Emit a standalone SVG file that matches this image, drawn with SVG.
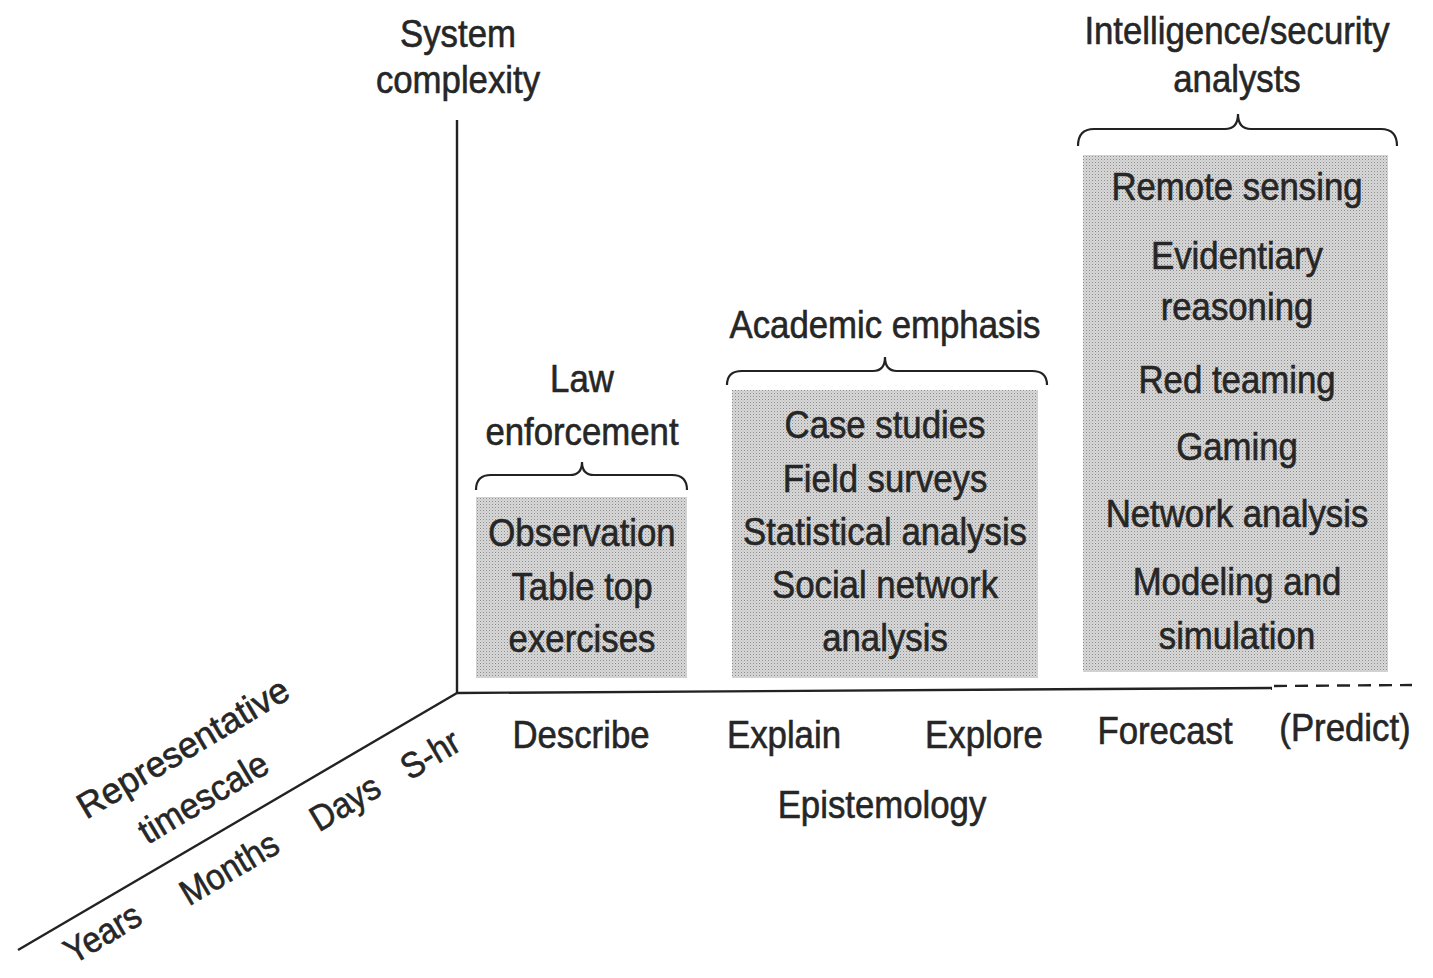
<svg xmlns="http://www.w3.org/2000/svg" width="1433" height="978" viewBox="0 0 1433 978">
  <defs>
    <pattern id="stipple" width="3" height="3" patternUnits="userSpaceOnUse">
      <rect width="3" height="3" fill="#d8d8d8"/>
      <rect width="1" height="1" fill="#8a8a8a"/>
      <rect x="1.5" y="1.5" width="1" height="1" fill="#b0b0b0"/>
    </pattern>
    <style>
      text { font-family: "Liberation Sans", Arial, sans-serif; font-size: 38px; fill: #262626; stroke: #262626; stroke-width: 0.6; text-anchor: middle; }
      .rot text { font-size: 36px; }
      .box { fill: url(#stipple); stroke: none; }
      .brace { fill: none; stroke: #222; stroke-width: 2.2; }
      .axis { fill: none; stroke: #222; stroke-width: 2.4; }
      .dash { fill: none; stroke: #222; stroke-width: 2.4; stroke-dasharray: 13 8; }
    </style>
  </defs>
  <rect width="1433" height="978" fill="#ffffff"/>

  <g id="connectors">
    <line class="axis" x1="457" y1="120" x2="457" y2="693"/>
    <line class="axis" x1="457" y1="693" x2="1272" y2="688"/>
    <line class="dash" x1="1274" y1="686" x2="1412" y2="685"/>
    <line class="axis" x1="18" y1="950" x2="457" y2="693"/>
  </g>

  <g id="axis-vertical-label">
    <text transform="translate(458,47) scale(0.915,1)">System</text>
    <text transform="translate(458,93) scale(0.915,1)">complexity</text>
  </g>

  <g id="law-enforcement">
    <text transform="translate(582,392) scale(0.915,1)">Law</text>
    <text transform="translate(582,445) scale(0.915,1)">enforcement</text>
    <path class="brace" d="M476,490 Q476,475 491,475 L570,475 Q582,475 582,462 Q582,475 594,475 L672,475 Q687,475 687,490"/>
    <rect class="box" x="476" y="497" width="211" height="181"/>
    <text transform="translate(582,546) scale(0.915,1)">Observation</text>
    <text transform="translate(582,600) scale(0.915,1)">Table top</text>
    <text transform="translate(582,652) scale(0.915,1)">exercises</text>
  </g>

  <g id="academic-emphasis">
    <text transform="translate(885,338) scale(0.915,1)">Academic emphasis</text>
    <path class="brace" d="M727,385 Q727,371 742,371 L873,371 Q885,371 885,357 Q885,371 897,371 L1032,371 Q1047,371 1047,385"/>
    <rect class="box" x="732" y="390" width="306" height="288"/>
    <text transform="translate(885,438) scale(0.915,1)">Case studies</text>
    <text transform="translate(885,492) scale(0.915,1)">Field surveys</text>
    <text transform="translate(885,545) scale(0.915,1)">Statistical analysis</text>
    <text transform="translate(885,598) scale(0.915,1)">Social network</text>
    <text transform="translate(885,651) scale(0.915,1)">analysis</text>
  </g>

  <g id="intelligence-analysts">
    <text transform="translate(1237,44) scale(0.915,1)">Intelligence/security</text>
    <text transform="translate(1237,92) scale(0.915,1)">analysts</text>
    <path class="brace" d="M1078,146 Q1078,129 1094,129 L1225,129 Q1238,129 1238,114 Q1238,129 1251,129 L1381,129 Q1397,129 1397,146"/>
    <rect class="box" x="1083" y="155" width="305" height="517"/>
    <text transform="translate(1237,200) scale(0.915,1)">Remote sensing</text>
    <text transform="translate(1237,269) scale(0.915,1)">Evidentiary</text>
    <text transform="translate(1237,320) scale(0.915,1)">reasoning</text>
    <text transform="translate(1237,393) scale(0.915,1)">Red teaming</text>
    <text transform="translate(1237,460) scale(0.915,1)">Gaming</text>
    <text transform="translate(1237,527) scale(0.915,1)">Network analysis</text>
    <text transform="translate(1237,595) scale(0.915,1)">Modeling and</text>
    <text transform="translate(1237,649) scale(0.915,1)">simulation</text>
  </g>

  <g id="epistemology-axis">
    <text transform="translate(581,748) scale(0.915,1)">Describe</text>
    <text transform="translate(784,748) scale(0.915,1)">Explain</text>
    <text transform="translate(984,748) scale(0.915,1)">Explore</text>
    <text transform="translate(1165,744) scale(0.915,1)">Forecast</text>
    <text transform="translate(1345,741) scale(0.915,1)">(Predict)</text>
    <text transform="translate(882,818) scale(0.915,1)">Epistemology</text>
  </g>

  <g id="timescale-axis" class="rot" transform="translate(457,692) rotate(-30.8)">
    <text transform="translate(-264,-80) scale(0.99,1)">Representative</text>
    <text transform="translate(-272,-27) scale(0.95,1)">timescale</text>
    <text transform="translate(-428,38) scale(0.915,1)">Years</text>
    <text transform="translate(-286,47) scale(0.915,1)">Months</text>
    <text transform="translate(-153,50) scale(0.915,1)">Days</text>
    <text transform="translate(-55,52) scale(0.915,1)">S-hr</text>
  </g>
</svg>
